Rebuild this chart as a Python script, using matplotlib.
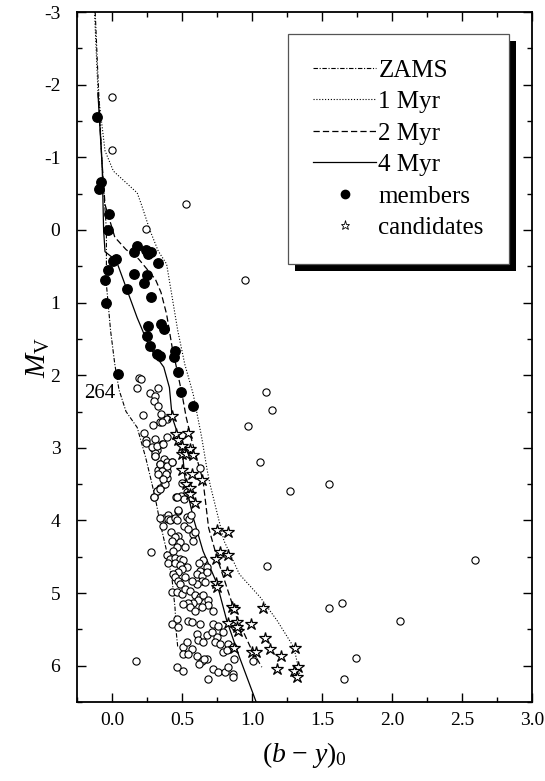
import numpy as np
import matplotlib
matplotlib.use("Agg")
import matplotlib.pyplot as plt
from matplotlib import font_manager
from matplotlib.ticker import MultipleLocator, FormatStrFormatter
from matplotlib.patches import Rectangle

# pick a Times-like serif that is really installed
have = {f.name for f in font_manager.fontManager.ttflist}
serif = next(n for n in ['Liberation Serif', 'Tinos', 'Nimbus Roman', 'STIXGeneral', 'DejaVu Serif'] if n in have)
plt.rcParams['font.family'] = [serif, 'DejaVu Serif']
plt.rcParams['mathtext.fontset'] = 'custom'
plt.rcParams['mathtext.rm'] = serif
plt.rcParams['mathtext.it'] = serif + ':italic'
plt.rcParams['axes.unicode_minus'] = False

# isochrones (b-y)_0 vs M_V
zams_x = [-0.12, -0.10, -0.07, -0.04, -0.04, -0.01, 0.02, 0.05, 0.10, 0.18, 0.24, 0.28, 0.31, 0.34, 0.39, 0.43, 0.45, 0.46, 0.47]
zams_y = [-3.0, -2.1, -0.86, 0.0, 0.75, 1.39, 1.85, 2.2, 2.5, 2.72, 3.13, 3.45, 3.7, 4.0, 4.42, 4.83, 5.2, 5.56, 5.75]

myr1_x = [-0.125, -0.10, -0.05, 0.01, 0.18, 0.21, 0.27, 0.33, 0.39, 0.47, 0.52, 0.58, 0.64, 0.68, 0.70, 0.80, 0.91, 1.06, 1.18, 1.30, 1.34]
myr1_y = [-3.0, -1.9, -1.09, -0.81, -0.51, -0.35, 0.0, 0.29, 0.47, 1.39, 1.85, 2.26, 2.85, 3.31, 3.50, 4.28, 4.74, 5.06, 5.38, 5.75, 6.11]

myr2_x = [-0.10, -0.07, -0.05, 0.02, 0.10, 0.19, 0.31, 0.35, 0.39, 0.43, 0.46, 0.50, 0.53, 0.57, 0.65, 0.69, 0.75, 0.82, 0.89, 0.99, 1.07]
myr2_y = [-1.9, -0.9, -0.35, 0.10, 0.27, 0.40, 0.68, 0.86, 1.16, 1.62, 1.89, 2.26, 2.58, 2.90, 3.45, 4.10, 4.51, 4.92, 5.33, 5.75, 6.02]

myr4_x = [-0.10, -0.07, -0.06, -0.05, 0.03, 0.18, 0.27, 0.37, 0.41, 0.43, 0.47, 0.50, 0.52, 0.55, 0.58, 0.65, 0.75, 0.82, 0.91, 1.03]
myr4_y = [-1.87, -0.86, 0.0, 0.3, 0.42, 1.21, 1.62, 1.89, 2.17, 2.58, 2.81, 3.0, 3.4, 3.7, 3.96, 4.42, 4.87, 5.38, 5.88, 6.5]

# cluster members
mem_x = [-0.11, -0.08, -0.09, -0.02, -0.03, 0.18, 0.16, 0.24, 0.26, 0.28, 0.33, 0.03, 0.01, -0.03, -0.05,
         0.16, 0.25, 0.23, 0.11, 0.28, -0.04, 0.26, 0.35, 0.37, 0.25, 0.27, 0.32, 0.34, 0.45, 0.44,
         0.47, 0.04, 0.49, 0.58]
mem_y = [-1.56, -0.66, -0.56, -0.22, 0.0, 0.22, 0.30, 0.27, 0.33, 0.31, 0.46, 0.40, 0.43, 0.55, 0.69,
         0.61, 0.62, 0.73, 0.81, 0.92, 1.01, 1.32, 1.30, 1.37, 1.46, 1.60, 1.71, 1.73, 1.67, 1.75,
         1.96, 1.98, 2.23, 2.43]

# candidates
cand_x = [0.43, 0.46, 0.54, 0.47, 0.50, 0.56, 0.50, 0.53, 0.58, 0.50, 0.57, 0.64, 0.53, 0.56, 0.56, 0.59,
          0.75, 0.83, 0.77, 0.74, 0.83, 0.82, 0.74, 0.75, 0.86, 0.87, 0.83, 0.89, 0.90, 0.99, 1.08,
          1.09, 1.13, 1.21, 1.00, 1.03, 1.18, 1.31, 1.33, 1.30, 1.32, 0.87, 0.89]
cand_y = [2.56, 2.81, 2.80, 2.89, 2.98, 3.02, 3.09, 3.08, 3.10, 3.31, 3.36, 3.44, 3.50, 3.55, 3.64, 3.76,
          4.13, 4.16, 4.44, 4.53, 4.48, 4.71, 4.86, 4.92, 5.19, 5.22, 5.41, 5.40, 5.52, 5.42, 5.21,
          5.62, 5.77, 5.86, 5.81, 5.81, 6.04, 5.75, 6.02, 6.07, 6.16, 5.75, 5.47]

# field stars
field_x = [0.00, 0.00, 0.53, 0.24, 0.95, 1.10, 1.14, 0.97, 1.06, 1.27, 1.11, 0.28, 0.17, 1.55, 2.59,
           1.55, 1.64, 2.06, 1.74, 1.66, 1.01,
           0.19, 0.21, 0.18, 0.33, 0.27, 0.31, 0.30, 0.33, 0.22, 0.35, 0.39, 0.34, 0.29, 0.23, 0.24,
           0.39, 0.36, 0.29, 0.32, 0.31, 0.37, 0.34, 0.39, 0.43, 0.63, 0.36, 0.31, 0.31, 0.37, 0.33,
           0.355, 0.35, 0.39, 0.39, 0.37, 0.32, 0.34, 0.30, 0.46, 0.49, 0.47, 0.37, 0.40, 0.43, 0.55,
           0.243, 0.288, 0.319, 0.367, 0.307, 0.343, 0.391, 0.355, 0.331, 0.386, 0.426, 0.379, 0.319,
           0.343, 0.303, 0.367, 0.498, 0.534, 0.515, 0.462, 0.343, 0.403, 0.367, 0.415, 0.450, 0.474,
           0.462, 0.534, 0.553, 0.562, 0.515, 0.546, 0.581, 0.591, 0.581, 0.422, 0.474, 0.450, 0.426,
           0.486, 0.391, 0.462, 0.438, 0.522, 0.415, 0.450, 0.486, 0.403, 0.450, 0.510, 0.486, 0.534,
           0.498, 0.474, 0.438, 0.450, 0.474, 0.486, 0.522, 0.653, 0.624, 0.677, 0.629, 0.605, 0.641,
           0.677, 0.641, 0.665, 0.605, 0.570, 0.426, 0.462, 0.498, 0.522, 0.558, 0.593, 0.629, 0.617,
           0.653, 0.689, 0.689, 0.724, 0.581, 0.546, 0.510, 0.558, 0.593, 0.641, 0.462, 0.426, 0.474,
           0.546, 0.570, 0.629, 0.605, 0.677, 0.724, 0.760, 0.796, 0.748, 0.712, 0.510, 0.534, 0.570,
           0.617, 0.653, 0.736, 0.772, 0.796, 0.831, 0.820, 0.867, 0.872, 0.510, 0.546, 0.605, 0.641,
           0.677, 0.624, 0.657, 0.724, 0.760, 0.808, 0.831, 0.862, 0.862, 0.689, 0.467, 0.510]
field_y = [-1.83, -1.10, -0.36, -0.01, 0.69, 2.23, 2.48, 2.70, 3.20, 3.60, 4.63, 4.44, 5.94, 3.50, 4.54,
           5.20, 5.14, 5.38, 5.90, 6.18, 5.94,
           2.04, 2.05, 2.18, 2.18, 2.25, 2.29, 2.36, 2.43, 2.55, 2.54, 2.61, 2.65, 2.68, 2.80, 2.89,
           2.85, 2.95, 3.00, 3.03, 3.11, 3.15, 3.22, 3.20, 3.20, 3.28, 2.64, 2.88, 3.07, 3.25, 3.31,
           3.27, 3.37, 3.32, 3.41, 3.50, 3.59, 3.55, 3.68, 3.68, 3.66, 3.87, 3.96, 3.93, 3.98, 3.96,
           2.93, 2.99, 2.97, 2.95, 3.11, 3.22, 3.25, 3.32, 3.36, 3.36, 3.20, 3.50, 3.59,
           3.57, 3.68, 3.43, 3.48, 3.61, 3.70, 3.68, 3.96, 3.98, 4.08, 4.00, 3.96, 3.86,
           4.00, 3.95, 3.98, 3.93, 4.08, 4.12, 4.19, 4.16, 4.28, 4.16, 4.22, 4.23, 4.28,
           4.30, 4.48, 4.37, 4.42, 4.37, 4.53, 4.51, 4.53, 4.58, 4.58, 4.55, 4.62, 4.64,
           4.67, 4.71, 4.74, 4.78, 4.83, 4.87, 4.78, 4.55, 4.58, 4.64, 4.69, 4.74, 4.76,
           4.71, 4.83, 4.85, 4.87, 4.83, 4.99, 4.99, 5.01, 4.94, 4.97, 5.03, 5.06, 5.10,
           5.03, 5.10, 5.17, 5.24, 5.13, 5.13, 5.15, 5.19, 5.24, 5.19, 5.36, 5.42, 5.47,
           5.38, 5.40, 5.42, 5.56, 5.58, 5.42, 5.45, 5.54, 5.61, 5.54, 5.74, 5.68, 5.77,
           5.65, 5.68, 5.68, 5.70, 5.81, 5.70, 5.79, 5.74, 5.91, 5.84, 5.84, 5.86, 5.93,
           5.91, 5.97, 5.91, 6.04, 6.09, 6.09, 6.02, 6.11, 6.16, 6.18, 6.02, 6.07]

fig = plt.figure(figsize=(5.45, 7.81), dpi=100)
ax = fig.add_axes([0.1413, 0.1011, 0.8348, 0.8835])

ax.plot(zams_x, zams_y, color='black', lw=0.8, dashes=(4, 1.5, 1, 1.5), label='ZAMS')
ax.plot(myr1_x, myr1_y, color='black', lw=0.8, dashes=(1, 1.6), label='1 Myr')
ax.plot(myr2_x, myr2_y, color='black', lw=0.9, dashes=(5, 2.5), label='2 Myr')
ax.plot(myr4_x, myr4_y, color='black', lw=0.9, label='4 Myr')

ax.plot(field_x, field_y, 'o', ms=5.2, mfc='white', mec='black', mew=0.8, ls='none')
ax.plot(mem_x, mem_y, 'o', ms=6.8, color='black', ls='none')
ax.plot(cand_x, cand_y, '*', ms=9, mfc='white', mec='black', mew=0.9, ls='none')

# legend-only handles for markers
ax.plot([], [], 'o', ms=6, color='black', ls='none', label='members')
ax.plot([], [], '*', ms=6.5, mfc='white', mec='black', mew=0.6, ls='none', label='candidates')

ax.text(-0.09, 2.25, '264', fontsize=15, ha='center', va='center')

ax.set_xlim(-0.25, 3.0)
ax.set_ylim(6.5, -3)
ax.xaxis.set_major_locator(MultipleLocator(0.5))
ax.xaxis.set_minor_locator(MultipleLocator(0.25))
ax.xaxis.set_major_formatter(FormatStrFormatter('%.1f'))
ax.yaxis.set_major_locator(MultipleLocator(1))
ax.yaxis.set_minor_locator(MultipleLocator(0.5))
ax.tick_params(which='both', direction='in', top=True, right=True, width=1.0, labelsize=14)
ax.tick_params(which='major', length=6.5)
ax.tick_params(which='minor', length=3.5)
ax.tick_params(axis='y', pad=12)
ax.tick_params(axis='x', pad=7)
for s in ax.spines.values():
    s.set_linewidth(1.3)

ax.set_xlabel(r'$(b\ \mathrm{-}\ y)_0$', fontsize=20, labelpad=8)
ax.set_ylabel(r'$M_{\mathrm{V}}$', fontsize=21, labelpad=-6)

handles, labels = ax.get_legend_handles_labels()
leg = ax.legend(handles, labels, loc='upper right', bbox_to_anchor=(0.949, 0.968),
                borderaxespad=0, fontsize=18, handlelength=2.5, handletextpad=0.1,
                labelspacing=0.36, borderpad=1.0, fancybox=False, framealpha=1,
                edgecolor='#555555')
leg.get_frame().set_linewidth(0.9)
leg.set_zorder(10)

fig.canvas.draw()
bb = leg.get_window_extent().transformed(fig.transFigure.inverted())
dx, dy = 7 / 545, 7 / 781
ax.add_patch(Rectangle((bb.x0 + dx, bb.y0 - dy), bb.width, bb.height, transform=fig.transFigure,
                       facecolor='black', edgecolor='none', clip_on=False, zorder=9))

fig.savefig('out.png', dpi=100)
